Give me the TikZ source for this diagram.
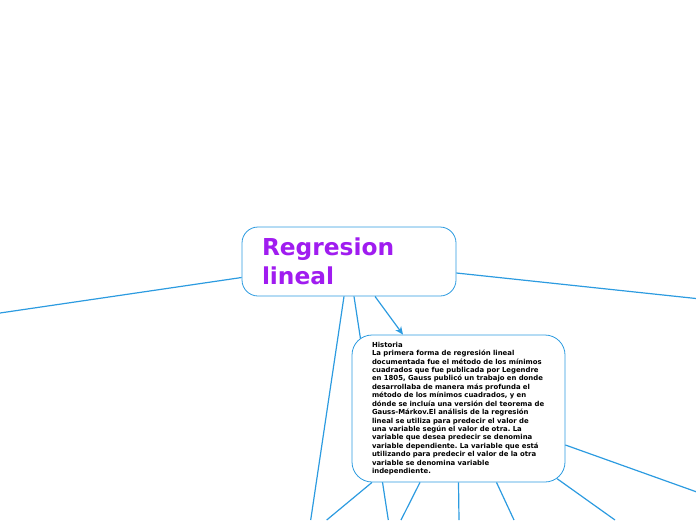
\documentclass[tikz,border=0pt]{standalone}
\usepackage{fontspec}
\setmainfont{DejaVu Sans}
\usetikzlibrary{calc,arrows.meta}
\definecolor{lineblue}{HTML}{2C9BE0}
\definecolor{titlepurple}{HTML}{A01CF0}
\tikzset{
  topicbox/.style={draw=lineblue, line width=0.8pt, fill=white, rounded corners=16pt, inner ysep=0pt, align=left},
  link/.style={draw=lineblue, line width=1.2pt},
}
\frenchspacing
\begin{document}
\begin{tikzpicture}[x=1pt,y=-1pt]
\useasboundingbox (0,0) rectangle (696,520);
\node[topicbox, minimum width=214pt, minimum height=69pt, inner xsep=20pt, text width=174pt,
      font=\fontsize{23.3}{29}\selectfont\bfseries, text=titlepurple] (main) at (349,261.5)
  {Regresion\\lineal};
\coordinate (eL) at (0,313);
\coordinate (eR) at (696,298.5);
\coordinate (eD1) at (310.7,520);
\coordinate (eD2) at (388.3,520);
\draw[link] ($(main.south)+(5,0)$) -- (eD2);
\node[topicbox, rounded corners=20pt, minimum width=213pt, minimum height=147pt, inner xsep=20pt, text width=173pt,
      font=\fontsize{6.9}{8.42}\selectfont\bfseries] (hist) at (458.5,408.5)
  {Historia\\
La primera forma de regresión lineal\\
documentada fue el método de los mínimos\\
cuadrados que fue publicada por Legendre\\
en 1805, Gauss publicó un trabajo en donde\\
desarrollaba de manera más profunda el\\
método de los mínimos cuadrados, y en\\
dónde se incluía una versión del teorema de\\
Gauss-Márkov.El análisis de la regresión\\
lineal se utiliza para predecir el valor de\\
una variable según el valor de otra. La\\
variable que desea predecir se denomina\\
variable dependiente. La variable que está\\
utilizando para predecir el valor de la otra\\
variable se denomina variable\\
independiente.};
\coordinate (hA) at (326.7,520);
\coordinate (hC) at (401,520);
\coordinate (hD) at (459,520);
\coordinate (hE) at (514,520);
\coordinate (hF) at (615,520);
\coordinate (hG) at (696,491.7);
\draw[link] ($(main.west)+(0,16)$) -- (eL);
\draw[link] ($(main.east)+(0,11.5)$) -- (eR);
\draw[link] ($(main.south)+(-5,0)$) -- (eD1);
\draw[link, -{Stealth[length=8pt,width=7pt]}] ($(main.south)+(26,0)$) -- ($(hist.north)+(-55.5,0)$);
\draw[link] ($(hist.south)+(-86.5,0)$) -- (hA);
\draw[link] ($(hist.south)+(-38.5,0)$) -- (hC);
\draw[link] (hist.south) -- (hD);
\draw[link] ($(hist.south)+(38,0)$) -- (hE);
\draw[link] ($(hist.south east)+(-8.3,-3.7)$) -- (hF);
\draw[link] ($(hist.east)+(0,36.5)$) -- (hG);
\end{tikzpicture}
\end{document}
